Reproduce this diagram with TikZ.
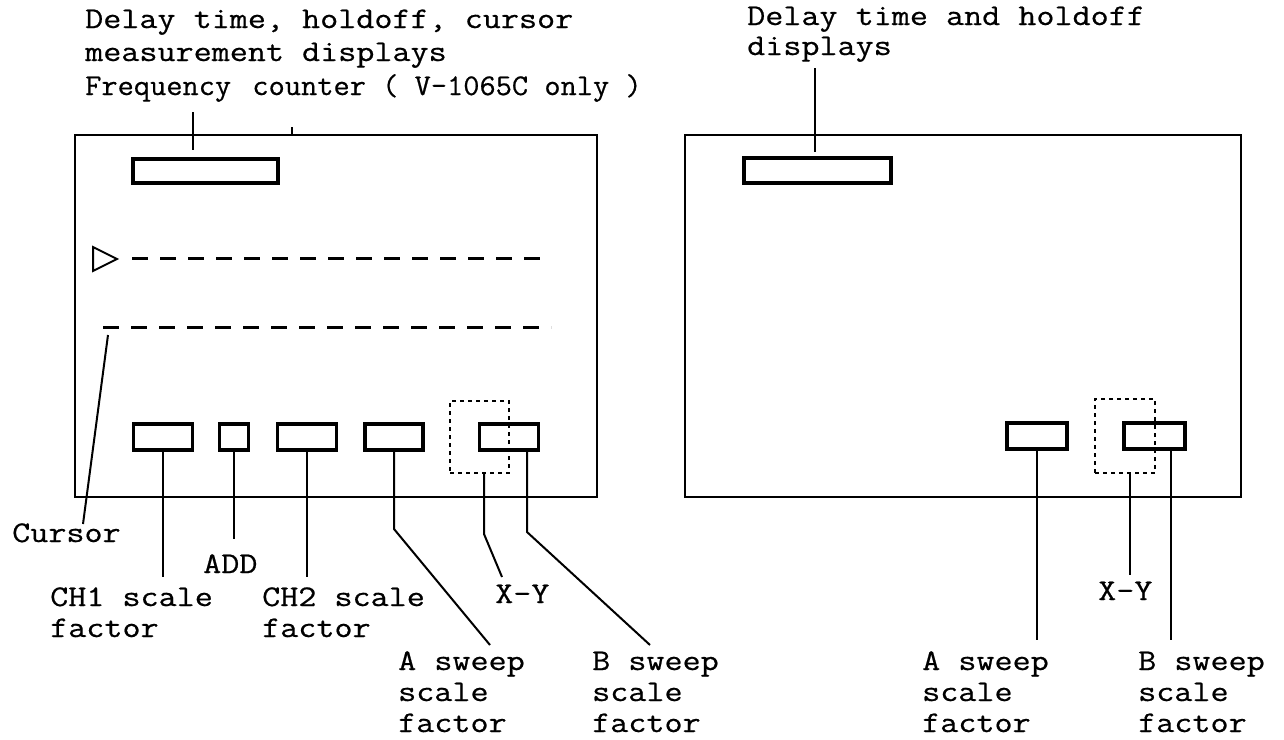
\documentclass[tikz,border=0pt]{standalone}
\usepackage{fontspec}
\newfontfamily\tw[FakeStretch=1.17,FakeBold=0.6]{Latin Modern Mono}
\newfontfamily\twn[FakeStretch=1.05,FakeBold=0.6]{Latin Modern Mono}
\begin{document}
\begin{tikzpicture}[x=1pt,y=-1pt,
  lbl/.style={anchor=base west, inner sep=0pt, font=\tw\fontsize{30}{30}\selectfont},
  lbln/.style={anchor=base west, inner sep=0pt, font=\twn\fontsize{30}{30}\selectfont},
  panel/.style={draw, line width=2.6pt, inner sep=0pt},
  dispbox/.style={draw, line width=3.2pt, inner sep=0pt},
  lead/.style={draw, line width=2pt},
  dotbox/.style={draw, line width=2.2pt, dash pattern=on 4pt off 4pt, inner sep=0pt},
  curline/.style={draw, line width=3pt, dash pattern=on 16pt off 12pt}]
\useasboundingbox (0,0) rectangle (1284,739);

% ---------- left panel ----------
\node[panel, minimum width=522pt, minimum height=362pt] (lf) at (336,316) {};
\node[dispbox, minimum width=145pt, minimum height=24pt] (ltop) at (205.5,171) {};

\node[lbl] (lt1) at (85,28) {Delay time, holdoff, cursor};
\node[lbl] (lt2) at (85,61) {measurement displays};
\node[lbln] (lt3) at (85,95) {Frequency\, counter ( V-1065C only )};
\coordinate (ltla) at (193,112);
\coordinate (ltlb) at (193,150);
\draw[lead] (ltla) -- (ltlb);
\coordinate (ticka) at (292,127);
\coordinate (tickb) at (292,135);
\draw[line width=1.2pt] (ticka) -- (tickb);

% cursor marks
\draw[line width=2pt] (93,247) -- (117,259) -- (93,271) -- cycle;
\coordinate (c1a) at (132,258);
\coordinate (c1b) at (551,258);
\draw[curline] (c1a) -- (c1b);
\coordinate (c2a) at (103,327);
\coordinate (c2b) at (551,327);
\draw[curline] (c2a) -- (c2b);

% bottom boxes
\node[dispbox, minimum width=59pt, minimum height=26pt] (ch1) at (163,437) {};
\node[dispbox, minimum width=29pt, minimum height=26pt] (add) at (234,437) {};
\node[dispbox, minimum width=59pt, minimum height=26pt] (ch2) at (307,437) {};
\node[dispbox, minimum width=58pt, minimum height=26pt] (asw) at (394,437) {};
\node[dispbox, minimum width=59pt, minimum height=26pt] (bsw) at (509,437) {};
\node[dotbox, minimum width=59pt, minimum height=72pt] (xy) at (479.5,437) {};

% labels
\node[lbl] (cursor) at (12,542) {Cursor};
\node[lbl] (addl) at (203,573) {ADD};
\node[lbl] (ch1l1) at (50,606) {CH1 scale};
\node[lbl] (ch1l2) at (50,637) {factor};
\node[lbl] (ch2l1) at (262,606) {CH2 scale};
\node[lbl] (ch2l2) at (262,637) {factor};
\node[lbl] (xyl) at (495,603) {X-Y};
\node[lbl] (al1) at (398,670) {A sweep};
\node[lbl] (al2) at (398,701) {scale};
\node[lbl] (al3) at (398,732) {factor};
\node[lbl] (bl1) at (592,670) {B sweep};
\node[lbl] (bl2) at (592,701) {scale};
\node[lbl] (bl3) at (592,732) {factor};

% leaders
\coordinate (curs) at (108,335);
\coordinate (cure) at (83,524);
\draw[lead] (curs) -- (cure);
\coordinate (ch1e) at (163,577);
\draw[lead] (ch1.south) -- (ch1e);
\coordinate (adde) at (234,539);
\draw[lead] (add.south) -- (adde);
\coordinate (ch2e) at (307,577);
\draw[lead] (ch2.south) -- (ch2e);
\coordinate (ak) at (394,529);
\coordinate (ae) at (490,645);
\draw[lead] (asw.south) -- (ak) -- (ae);
\coordinate (xys) at (484,473);
\coordinate (xyk) at (484,534);
\coordinate (xye) at (502,577);
\draw[lead] (xys) -- (xyk) -- (xye);
\coordinate (bk) at (527,532);
\coordinate (be) at (650,645);
\draw[lead] (bsw.south -| bk) -- (bk) -- (be);

% ---------- right panel ----------
\node[panel, minimum width=556pt, minimum height=362pt] (rf) at (963,316) {};
\node[dispbox, minimum width=147pt, minimum height=25pt] (rtop) at (817.5,170.5) {};
\node[lbl] (rt1) at (747,25) {Delay time and holdoff};
\node[lbl] (rt2) at (747,55) {displays};
\coordinate (rtla) at (815,68);
\coordinate (rtlb) at (815,152);
\draw[lead] (rtla) -- (rtlb);

\node[dispbox, minimum width=60pt, minimum height=26pt] (rasw) at (1037,436) {};
\node[dispbox, minimum width=61pt, minimum height=26pt] (rbsw) at (1154.5,436) {};
\node[dotbox, minimum width=60pt, minimum height=74pt] (rxy) at (1125,436) {};

\node[lbl] (rxyl) at (1098,600) {X-Y};
\node[lbl] (ral1) at (922,670) {A sweep};
\node[lbl] (ral2) at (922,701) {scale};
\node[lbl] (ral3) at (922,732) {factor};
\node[lbl] (rbl1) at (1138,670) {B sweep};
\node[lbl] (rbl2) at (1138,701) {scale};
\node[lbl] (rbl3) at (1138,732) {factor};

\coordinate (rae) at (1037,640);
\draw[lead] (rasw.south) -- (rae);
\coordinate (rxys) at (1130,473);
\coordinate (rxye) at (1130,575);
\draw[lead] (rxys) -- (rxye);
\coordinate (rbe) at (1171,640);
\draw[lead] (rbsw.south -| rbe) -- (rbe);
\end{tikzpicture}
\end{document}
